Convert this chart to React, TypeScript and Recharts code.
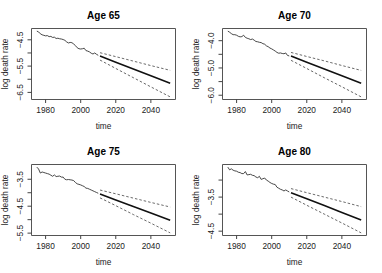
import { LineChart, Line, XAxis, YAxis, ReferenceArea } from 'recharts';

// observed years and forecast horizon
const histYears = [
  1975, 1976, 1977, 1978, 1979, 1980, 1981, 1982, 1983, 1984, 1985, 1986,
  1987, 1988, 1989, 1990, 1991, 1992, 1993, 1994, 1995, 1996, 1997, 1998,
  1999, 2000, 2001, 2002, 2003, 2004, 2005, 2006, 2007, 2008, 2009, 2010,
];
const fcYears = [2011, 2020, 2030, 2040, 2051];
const xTicks = [1980, 2000, 2020, 2040];

// Age 65
const hist65 = [
  -4.17, -4.2, -4.27, -4.31, -4.33, -4.35, -4.34, -4.38, -4.37, -4.41, -4.4, -4.45,
  -4.44, -4.46, -4.47, -4.49, -4.52, -4.58, -4.62, -4.6, -4.61, -4.66, -4.72, -4.8,
  -4.84, -4.85, -4.84, -4.82, -4.91, -4.93, -4.96, -5.01, -5.04, -5.0, -5.05, -5.09,
];
const mean65 = [-5.12, -5.35, -5.61, -5.87, -6.15];
const hi65 = [-4.99, -5.14, -5.31, -5.48, -5.66];
const lo65 = [-5.27, -5.59, -5.94, -6.29, -6.67];
const yTicks65 = [-6.5, -6, -5.5, -5, -4.5];
const yLabels65 = [-6.5, -5.5, -4.5];

// Age 70
const hist70 = [
  -3.65, -3.69, -3.74, -3.78, -3.78, -3.8, -3.84, -3.86, -3.85, -3.8, -3.88, -3.91,
  -3.93, -3.96, -3.94, -3.98, -4.03, -4.04, -4.06, -4.07, -4.11, -4.13, -4.19, -4.22,
  -4.27, -4.3, -4.34, -4.38, -4.43, -4.46, -4.45, -4.47, -4.48, -4.45, -4.54, -4.56,
];
const mean70 = [-4.56, -4.79, -5.04, -5.29, -5.56];
const hi70 = [-4.43, -4.58, -4.74, -4.91, -5.09];
const lo70 = [-4.72, -5.02, -5.36, -5.69, -6.06];
const yTicks70 = [-6, -5.5, -5, -4.5, -4];
const yLabels70 = [-6, -5, -4];

// Age 75
const hist75 = [
  -3.05, -3.12, -3.27, -3.23, -3.25, -3.27, -3.29, -3.31, -3.35, -3.39, -3.34, -3.4,
  -3.39, -3.38, -3.42, -3.42, -3.5, -3.52, -3.51, -3.52, -3.53, -3.55, -3.62, -3.67,
  -3.69, -3.71, -3.74, -3.77, -3.83, -3.84, -3.87, -3.9, -3.93, -3.96, -3.99, -4.02,
];
const mean75 = [-4.05, -4.27, -4.51, -4.75, -5.02];
const hi75 = [-3.9, -4.04, -4.2, -4.36, -4.53];
const lo75 = [-4.19, -4.48, -4.81, -5.13, -5.49];
const yTicks75 = [-5.5, -5, -4.5, -4, -3.5];
const yLabels75 = [-5.5, -4.5, -3.5];

// Age 80
const hist80 = [
  -2.62, -2.7, -2.67, -2.71, -2.73, -2.74, -2.77, -2.78, -2.81, -2.81, -2.75, -2.85,
  -2.84, -2.83, -2.86, -2.87, -2.91, -2.93, -2.89, -2.98, -2.96, -2.94, -3.0, -3.03,
  -3.07, -3.1, -3.12, -3.13, -3.21, -3.24, -3.27, -3.29, -3.32, -3.29, -3.32, -3.35,
];
const mean80 = [-3.37, -3.55, -3.75, -3.95, -4.17];
const hi80 = [-3.25, -3.37, -3.5, -3.63, -3.78];
const lo80 = [-3.5, -3.74, -4.0, -4.26, -4.55];
const yTicks80 = [-4.5, -4, -3.5, -3];
const yLabels80 = [-4.5, -3.5];

const FONT = '"Liberation Sans", Arial, Helvetica, sans-serif';
const PANEL_W = 191;
const PANEL_H = 136.5;
const TOP = 28.5;
const LEFT = 31.5;
const RIGHT = 15.5;
const BOTTOM = 37;
const INK = '#222';

// R's default axis range: data range padded by 4% on each side
function rRange(vals: number[]): [number, number] {
  const lo = Math.min(...vals);
  const hi = Math.max(...vals);
  const pad = (hi - lo) * 0.04;
  return [lo - pad, hi + pad];
}

const xDomain = rRange([histYears[0], fcYears[fcYears.length - 1]]);

function buildRows(hist: number[], mean: number[], hi: number[], lo: number[]) {
  const rows: { year: number; hist?: number; mean?: number; hi?: number; lo?: number }[] = [];
  histYears.forEach((year, i) => rows.push({ year, hist: hist[i] }));
  fcYears.forEach((year, i) => rows.push({ year, mean: mean[i], hi: hi[i], lo: lo[i] }));
  return rows;
}

const panels = [
  { title: 'Age 65', hist: hist65, mean: mean65, hi: hi65, lo: lo65, ticks: yTicks65, labels: yLabels65 },
  { title: 'Age 70', hist: hist70, mean: mean70, hi: hi70, lo: lo70, ticks: yTicks70, labels: yLabels70 },
  { title: 'Age 75', hist: hist75, mean: mean75, hi: hi75, lo: lo75, ticks: yTicks75, labels: yLabels75 },
  { title: 'Age 80', hist: hist80, mean: mean80, hi: hi80, lo: lo80, ticks: yTicks80, labels: yLabels80 },
];

const fmt = (v: number) => v.toFixed(1).replace('-', '\u2212');

function XTick({ x, y, payload }: any) {
  return (
    <g>
      <line x1={x} x2={x} y1={y} y2={y + 3.5} stroke="#444" strokeWidth={1} />
      <text x={x} y={y + 10.5} textAnchor="middle" dominantBaseline="central" fontSize={8.3} fontFamily={FONT} fill={INK}>
        {payload.value}
      </text>
    </g>
  );
}

function makeYTick(labels: number[]) {
  return ({ x, y, payload }: any) => (
    <g>
      <line x1={x - 4} x2={x} y1={y} y2={y} stroke="#444" strokeWidth={1} />
      {labels.includes(payload.value) && (
        <text
          transform={`translate(${x - 11.5},${y}) rotate(-90)`}
          textAnchor="middle"
          dominantBaseline="central"
          fontSize={8.3}
          fontFamily={FONT}
          fill={INK}
        >
          {fmt(payload.value)}
        </text>
      )}
    </g>
  );
}

function Panel({ p, left, top }: { p: (typeof panels)[number]; left: number; top: number }) {
  const rows = buildRows(p.hist, p.mean, p.hi, p.lo);
  const yDomain = rRange([...p.hist, ...p.mean, ...p.hi, ...p.lo]);
  const plotMidX = LEFT + (PANEL_W - LEFT - RIGHT) / 2;
  const plotMidY = TOP + (PANEL_H - TOP - BOTTOM) / 2;
  return (
    <div style={{ position: 'absolute', left, top, width: PANEL_W, height: PANEL_H, fontFamily: FONT }}>
      <LineChart width={PANEL_W} height={PANEL_H} data={rows} margin={{ top: TOP, right: RIGHT, left: 0, bottom: 0 }}>
        <XAxis
          dataKey="year"
          type="number"
          domain={xDomain}
          ticks={xTicks}
          interval={0}
          height={BOTTOM}
          axisLine={false}
          tickLine={false}
          tickSize={0}
          tickMargin={0}
          tick={<XTick />}
          allowDataOverflow
        />
        <YAxis
          type="number"
          domain={yDomain}
          ticks={p.ticks}
          interval={0}
          width={LEFT}
          axisLine={false}
          tickLine={false}
          tickSize={0}
          tickMargin={0}
          tick={makeYTick(p.labels)}
          allowDataOverflow
        />
        <ReferenceArea
          x1={xDomain[0]}
          x2={xDomain[1]}
          y1={yDomain[0]}
          y2={yDomain[1]}
          fill="none"
          fillOpacity={0}
          stroke="#555"
          strokeWidth={1}
          ifOverflow="visible"
        />
        <Line dataKey="hist" stroke="#333" strokeWidth={0.9} dot={false} isAnimationActive={false} />
        <Line dataKey="mean" stroke="#111" strokeWidth={1.6} dot={false} isAnimationActive={false} />
        <Line dataKey="hi" stroke="#444" strokeWidth={0.8} strokeDasharray="2.5 2" dot={false} isAnimationActive={false} />
        <Line dataKey="lo" stroke="#444" strokeWidth={0.8} strokeDasharray="2.5 2" dot={false} isAnimationActive={false} />
      </LineChart>
      <div
        style={{
          position: 'absolute', left: plotMidX - 50, top: 10, width: 100, textAlign: 'center',
          fontSize: 10, lineHeight: '12px', fontWeight: 'bold', color: '#000',
        }}
      >
        {p.title}
      </div>
      <div
        style={{
          position: 'absolute', left: plotMidX - 40, top: 120.7, width: 80, textAlign: 'center',
          fontSize: 8.3, lineHeight: '10px', color: INK,
        }}
      >
        time
      </div>
      <div
        style={{
          position: 'absolute', left: 5.3 - 40, top: plotMidY - 5, width: 80, height: 10, textAlign: 'center',
          fontSize: 8.3, lineHeight: '10px', color: INK, transform: 'rotate(-90deg)',
        }}
      >
        log death rate
      </div>
    </div>
  );
}

export default function App() {
  return (
    <div style={{ position: 'absolute', left: 0, top: 0, width: 382, height: 273, background: '#fff' }}>
      {panels.map((p, i) => (
        <Panel key={p.title} p={p} left={(i % 2) * PANEL_W} top={Math.floor(i / 2) * 136} />
      ))}
    </div>
  );
}
